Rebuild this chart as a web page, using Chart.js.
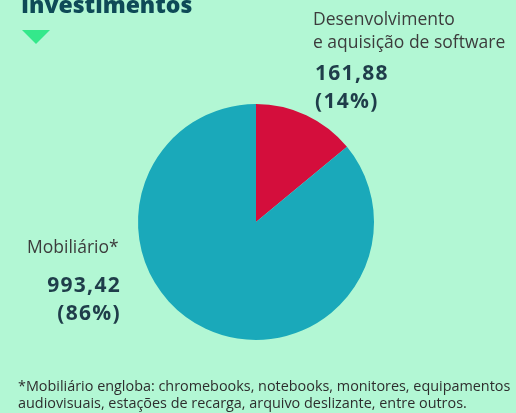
<!DOCTYPE html>
<html>
<head>
<meta charset="utf-8">
<script src="https://cdn.jsdelivr.net/npm/chart.js@4"></script>
<style>
  body { margin: 0; background: #b2f7d4; font-family: "Open Sans", sans-serif; }
  #wrap { position: relative; width: 516px; height: 413px; overflow: hidden; }
  canvas { position: absolute; left: 0; top: 0; }
  .t { position: absolute; white-space: nowrap; }
  .title { left: 21px; top: -12px; font-size: 23px; font-weight: 800; color: #0e4a57; }
  .tri { left: 22px; top: 30px; width: 0; height: 0; border-left: 14px solid transparent; border-right: 14px solid transparent; border-top: 14px solid #34e88b; }
  .lab { font-size: 17.5px; color: #3c3c3c; line-height: 23px; }
  .val { font-size: 21px; font-weight: 700; color: #1f3d4a; line-height: 28px; letter-spacing: 1.3px; }
  .foot { left: 18px; top: 377px; font-size: 14.4px; color: #2e2e2e; line-height: 17px; }
</style>
</head>
<body>
<div id="wrap">
  <canvas id="pie" width="516" height="413"></canvas>
  <div class="t title">Investimentos</div>
  <div class="t tri"></div>
  <div class="t lab" style="left:313px; top:7px;">Desenvolvimento<br>e aquisição de software</div>
  <div class="t val" style="left:315px; top:58px;">161,88<br>(14%)</div>
  <div class="t lab" style="left:27px; top:235px;">Mobiliário*</div>
  <div class="t val" style="right:395px; top:270px; text-align:right;">993,42<br>(86%)</div>
  <div class="t foot">*Mobiliário engloba: chromebooks, notebooks, monitores, equipamentos<br>audiovisuais, estações de recarga, arquivo deslizante, entre outros.</div>
</div>
<script>
const categories = ['Desenvolvimento e aquisição de software', 'Mobiliário*']
const values = [161.88, 993.42]
const colors = ['#d40e3c', '#1aa9ba']

new Chart(document.getElementById('pie'), {
    type: 'pie',
    data: {
        labels: categories,
        datasets: [{
            data: values,
            backgroundColor: colors,
            borderWidth: 0
        }]
    },
    options: {
        responsive: false,
        animation: false,
        layout: { padding: { left: 138, right: 142, top: 104, bottom: 73 } },
        plugins: {
            legend: { display: false },
            tooltip: { enabled: false }
        }
    }
})
</script>
</body>
</html>
